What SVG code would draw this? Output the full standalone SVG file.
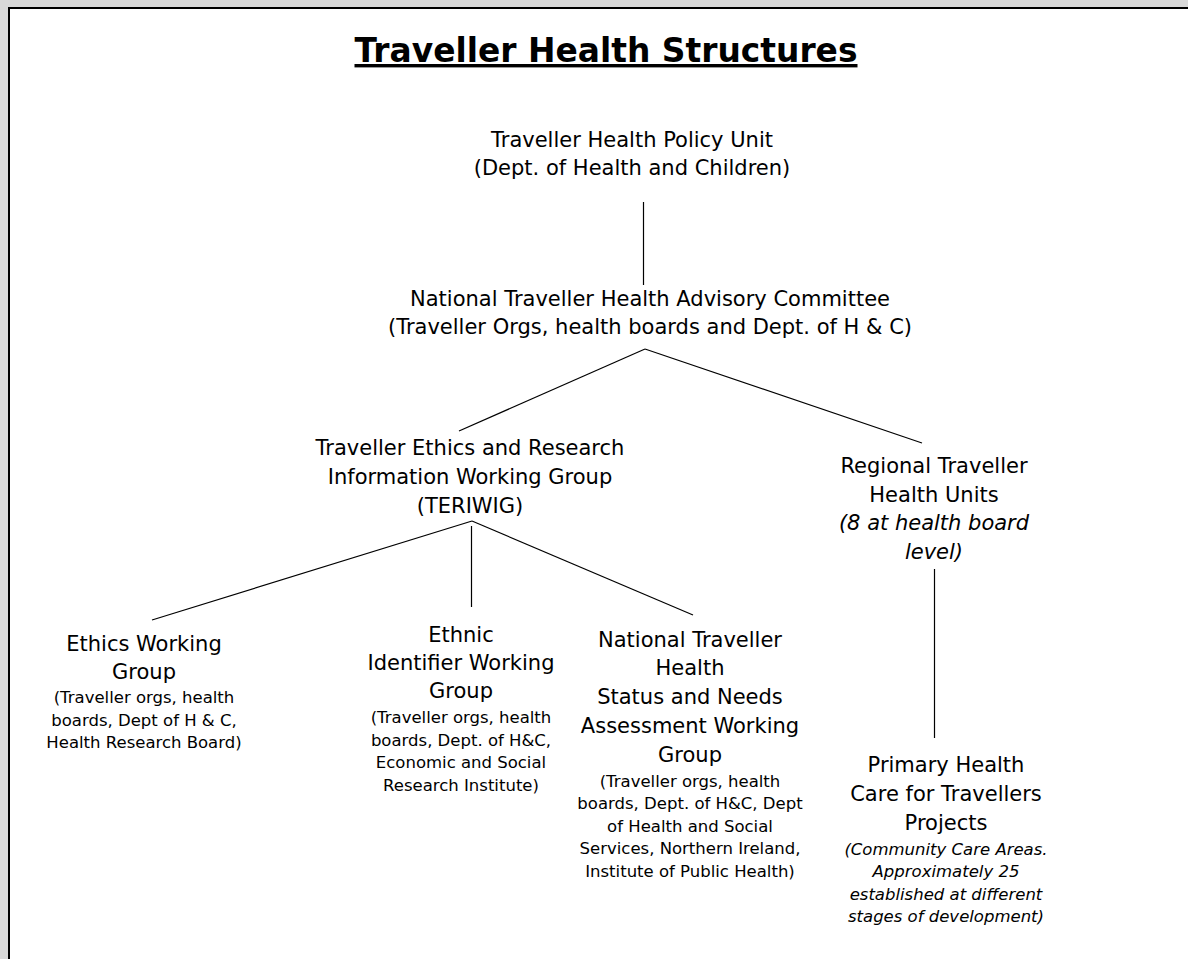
<svg xmlns="http://www.w3.org/2000/svg" width="1188" height="959" viewBox="0 0 1188 959">
<style>
text{font-family:"DejaVu Sans","Verdana",sans-serif;fill:#000;text-anchor:middle}
.m{font-size:21px}
.s{font-size:16.5px}
.i{font-style:italic}
.t{font-family:"DejaVu Sans",sans-serif;font-weight:bold;font-size:34px;text-decoration:underline}
.c line{stroke:#000;stroke-width:1.2}
</style>
<rect x="0" y="0" width="1188" height="959" fill="#d9d9d9"/>
<rect x="8" y="7" width="1180" height="952" fill="#000"/>
<rect x="10" y="9" width="1178" height="950" fill="#fff"/>
<g id="title"><text class="t" x="606" y="62" textLength="503" lengthAdjust="spacingAndGlyphs">Traveller Health Structures</text></g>
<g id="connectors" class="c">
<line x1="643.5" y1="202" x2="643.5" y2="285"/>
<line x1="645" y1="349" x2="459" y2="431"/>
<line x1="645" y1="349" x2="922" y2="443"/>
<line x1="472" y1="521" x2="152" y2="620"/>
<line x1="471.5" y1="526" x2="471.5" y2="607"/>
<line x1="472" y1="521" x2="693" y2="615"/>
<line x1="934.5" y1="569" x2="934.5" y2="738"/>
</g>
<g id="policy-unit">
<text class="m" x="632" y="147">Traveller Health Policy Unit</text>
<text class="m" x="632" y="175">(Dept. of Health and Children)</text>
</g>
<g id="advisory-committee">
<text class="m" x="650" y="306">National Traveller Health Advisory Committee</text>
<text class="m" x="650" y="334">(Traveller Orgs, health boards and Dept. of H &amp; C)</text>
</g>
<g id="teriwig">
<text class="m" x="470" y="455">Traveller Ethics and Research</text>
<text class="m" x="470" y="484">Information Working Group</text>
<text class="m" x="470" y="513">(TERIWIG)</text>
</g>
<g id="regional-units">
<text class="m" x="934" y="473">Regional Traveller</text>
<text class="m" x="934" y="502">Health Units</text>
<text class="m i" x="934" y="530">(8 at health board</text>
<text class="m i" x="934" y="559">level)</text>
</g>
<g id="ethics-wg">
<text class="m" x="144" y="651">Ethics Working</text>
<text class="m" x="144" y="679">Group</text>
<text class="s" x="144" y="703">(Traveller orgs, health</text>
<text class="s" x="144" y="726">boards, Dept of H &amp; C,</text>
<text class="s" x="144" y="748">Health Research Board)</text>
</g>
<g id="ethnic-identifier-wg">
<text class="m" x="461" y="642">Ethnic</text>
<text class="m" x="461" y="670">Identifier Working</text>
<text class="m" x="461" y="698">Group</text>
<text class="s" x="461" y="723">(Traveller orgs, health</text>
<text class="s" x="461" y="746">boards, Dept. of H&amp;C,</text>
<text class="s" x="461" y="768">Economic and Social</text>
<text class="s" x="461" y="791">Research Institute)</text>
</g>
<g id="status-needs-wg">
<text class="m" x="690" y="647">National Traveller</text>
<text class="m" x="690" y="675">Health</text>
<text class="m" x="690" y="704">Status and Needs</text>
<text class="m" x="690" y="733">Assessment Working</text>
<text class="m" x="690" y="762">Group</text>
<text class="s" x="690" y="787">(Traveller orgs, health</text>
<text class="s" x="690" y="809">boards, Dept. of H&amp;C, Dept</text>
<text class="s" x="690" y="832">of Health and Social</text>
<text class="s" x="690" y="854">Services, Northern Ireland,</text>
<text class="s" x="690" y="877">Institute of Public Health)</text>
</g>
<g id="primary-health-care">
<text class="m" x="946" y="772">Primary Health</text>
<text class="m" x="946" y="801">Care for Travellers</text>
<text class="m" x="946" y="830">Projects</text>
<text class="s i" x="946" y="855">(Community Care Areas.</text>
<text class="s i" x="946" y="877">Approximately 25</text>
<text class="s i" x="946" y="900">established at different</text>
<text class="s i" x="946" y="922">stages of development)</text>
</g>
</svg>
